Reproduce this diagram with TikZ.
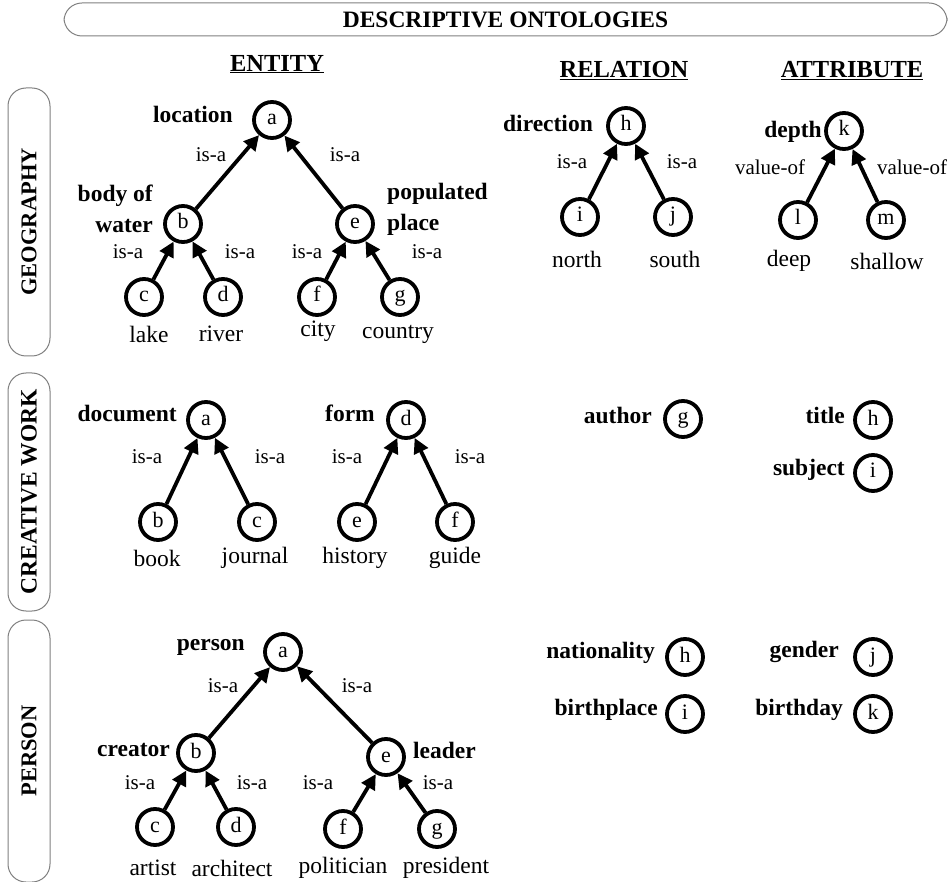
\documentclass[tikz,border=0pt]{standalone}
\usepackage{fontspec}
\setmainfont{Liberation Serif}
\usetikzlibrary{arrows.meta}
\tikzset{
 nd/.style={circle,draw,line width=3.8pt,minimum size=36pt,inner sep=0pt,text height=13pt,text depth=3pt,font=\fontsize{22}{22}\selectfont},
 lbl/.style={font=\bfseries\fontsize{23.5}{23.5}\selectfont,inner sep=0pt},
 lbltwo/.style={font=\bfseries\fontsize{23.5}{31}\selectfont,inner sep=0pt},
 isa/.style={font=\fontsize{21}{21}\selectfont,inner sep=0pt},
 leaf/.style={font=\fontsize{23.5}{23.5}\selectfont,inner sep=0pt},
 arr/.style={line width=3.8pt,-{Triangle[length=15pt,width=15pt]}},
 frame/.style={draw=gray,line width=1pt,rounded corners=18pt},
 side/.style={font=\bfseries\fontsize{22.5}{22.5}\selectfont,rotate=90},
 head/.style={font=\bfseries\fontsize{24.5}{24.5}\selectfont,inner sep=0pt},
 toph/.style={font=\bfseries\fontsize{23.5}{23.5}\selectfont}
}
\begin{document}
\begin{tikzpicture}[x=1pt,y=-1pt]
\useasboundingbox (0,0) rectangle (948,882);
% frames
\node[frame,toph,minimum width=883pt,minimum height=33pt] (hdr) at (505.5,19.5) {DESCRIPTIVE ONTOLOGIES};
\node[frame,side,minimum width=268pt,minimum height=42pt] (geo) at (29,222) {GEOGRAPHY};
\node[frame,side,minimum width=238pt,minimum height=42pt,font=\bfseries\fontsize{23.5}{23.5}\selectfont] (cw) at (29,492) {CREATIVE WORK};
\node[frame,side,minimum width=262pt,minimum height=42pt] (per) at (29,751) {PERSON};
% column heads
\node[head] (ent) at (277,64) {\underline{ENTITY}};
\node[head] (rel) at (624,71) {\underline{RELATION}};
\node[head] (att) at (852,71) {\underline{ATTRIBUTE}};

% ---------- GEOGRAPHY: entity
\node[nd] (ga) at (272,120) {a};
\node[nd] (gb) at (183,224) {b};
\node[nd] (ge) at (355,224) {e};
\node[nd] (gc) at (144,297) {c};
\node[nd] (gd) at (223,297) {d};
\node[nd] (gf) at (317,297) {f};
\node[nd] (gg) at (400,297) {g};
\node[lbl,anchor=east] (gal) at (233,114) {location};
\node[lbltwo,align=right,anchor=east] (gbl) at (153,209) {body of\\water};
\node[lbltwo,align=left,anchor=west] (gel) at (387,209) {populated\\place};
\draw[arr] (gb) -- (ga);
\draw[arr] (ge) -- (ga);
\draw[arr] (gc) -- (gb);
\draw[arr] (gd) -- (gb);
\draw[arr] (gf) -- (ge);
\draw[arr] (gg) -- (ge);
\node[isa] (gi1) at (211,155) {is-a};
\node[isa] (gi2) at (345,155) {is-a};
\node[isa] (gi3) at (128,252) {is-a};
\node[isa] (gi4) at (240,252) {is-a};
\node[isa] (gi5) at (307,252) {is-a};
\node[isa] (gi6) at (427,252) {is-a};
\node[leaf] (gcl) at (149,334) {lake};
\node[leaf] (gdl) at (221,334) {river};
\node[leaf] (gfl) at (318,331) {city};
\node[leaf] (ggl) at (398,334) {country};
% relation
\node[nd] (gh) at (626,126) {h};
\node[nd] (gii) at (580,217) {i};
\node[nd] (gj) at (673,217) {j};
\node[lbl,anchor=east] (ghl) at (593,123) {direction};
\draw[arr] (gii) -- (gh);
\draw[arr] (gj) -- (gh);
\node[isa] (gi7) at (572,162) {is-a};
\node[isa] (gi8) at (682,162) {is-a};
\node[leaf] (giil) at (577,259) {north};
\node[leaf] (gjl) at (675,259) {south};
% attribute
\node[nd] (gk) at (844,131) {k};
\node[nd] (gl) at (798,220) {l};
\node[nd] (gm) at (886,220) {m};
\node[lbl,anchor=east] (gkl) at (822,132) {depth};
\draw[arr] (gl) -- (gk);
\draw[arr] (gm) -- (gk);
\node[isa] (gv1) at (770,167) {value-of};
\node[isa] (gv2) at (912,167) {value-of};
\node[leaf] (gll) at (789,261) {deep};
\node[leaf] (gml) at (887,261) {shallow};

% ---------- CREATIVE WORK
\node[nd] (ca) at (206,420) {a};
\node[nd] (cb) at (158,522) {b};
\node[nd] (cc) at (257,522) {c};
\node[nd] (cd) at (406,420) {d};
\node[nd] (ce) at (357,522) {e};
\node[nd] (cf) at (455,522) {f};
\node[lbl,anchor=east] (cal) at (177,413) {document};
\node[lbl,anchor=east] (cdl) at (375,413) {form};
\draw[arr] (cb) -- (ca);
\draw[arr] (cc) -- (ca);
\draw[arr] (ce) -- (cd);
\draw[arr] (cf) -- (cd);
\node[isa] (ci1) at (147,457) {is-a};
\node[isa] (ci2) at (270,457) {is-a};
\node[isa] (ci3) at (347,457) {is-a};
\node[isa] (ci4) at (470,457) {is-a};
\node[leaf] (cbl) at (157,558) {book};
\node[leaf] (ccl) at (255,558) {journal};
\node[leaf] (cel) at (355,558) {history};
\node[leaf] (cfl) at (455,558) {guide};
\node[nd] (cg) at (683,419) {g};
\node[lbl,anchor=east] (cgl) at (652,415) {author};
\node[nd] (ch) at (873,420) {h};
\node[lbl,anchor=east] (chl) at (845,415) {title};
\node[nd] (ci) at (873,473) {i};
\node[lbl,anchor=east] (cil) at (845,470) {subject};

% ---------- PERSON
\node[nd] (pa) at (283,652) {a};
\node[nd] (pb) at (196,753) {b};
\node[nd] (pe) at (386,757) {e};
\node[nd] (pc) at (155,827) {c};
\node[nd] (pd) at (236,827) {d};
\node[nd] (pf) at (343,829) {f};
\node[nd] (pg) at (437,829) {g};
\node[lbl,anchor=east] (pal) at (245,647) {person};
\node[lbl,anchor=east] (pbl) at (170,750) {creator};
\node[lbl,anchor=west] (pel) at (413,750) {leader};
\draw[arr] (pb) -- (pa);
\draw[arr] (pe) -- (pa);
\draw[arr] (pc) -- (pb);
\draw[arr] (pd) -- (pb);
\draw[arr] (pf) -- (pe);
\draw[arr] (pg) -- (pe);
\node[isa] (pi1) at (223,686) {is-a};
\node[isa] (pi2) at (357,686) {is-a};
\node[isa] (pi3) at (140,783) {is-a};
\node[isa] (pi4) at (252,783) {is-a};
\node[isa] (pi5) at (318,783) {is-a};
\node[isa] (pi6) at (438,783) {is-a};
\node[leaf] (pcl) at (153,868) {artist};
\node[leaf] (pdl) at (232,868) {architect};
\node[leaf] (pfl) at (343,868) {politician};
\node[leaf] (pgl) at (446,868) {president};
\node[nd] (ph) at (685,657) {h};
\node[lbl,anchor=east] (phl) at (655,653) {nationality};
\node[nd] (pii) at (685,714) {i};
\node[lbl,anchor=east] (pil) at (658,710) {birthplace};
\node[nd] (pj) at (873,657) {j};
\node[lbl,anchor=east] (pjl) at (839,652) {gender};
\node[nd] (pk) at (873,714) {k};
\node[lbl,anchor=east] (pkl) at (843,710) {birthday};
\end{tikzpicture}
\end{document}
